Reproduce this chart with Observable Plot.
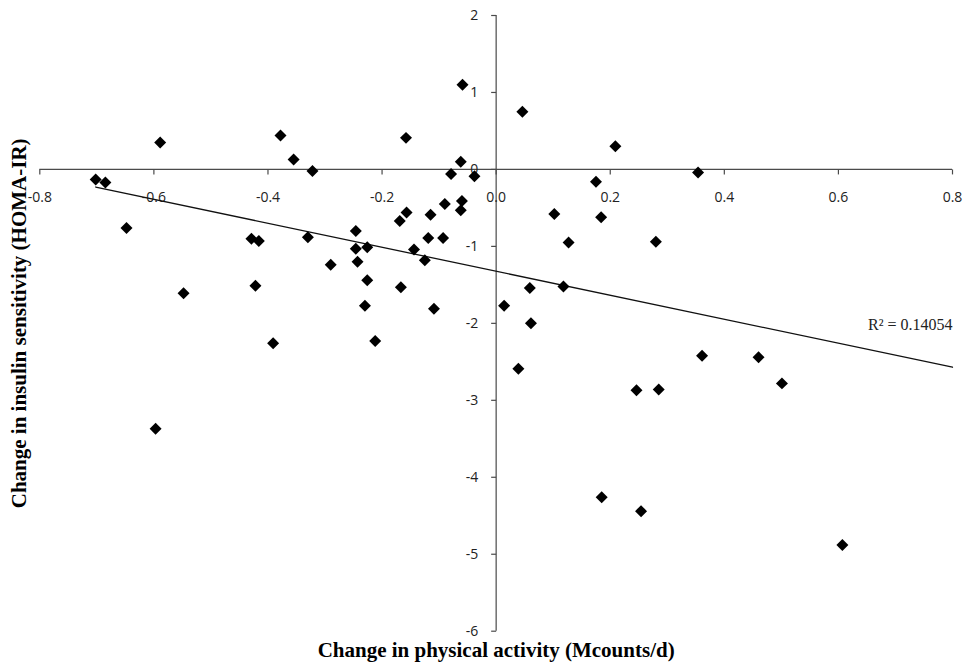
<!DOCTYPE html>
<html>
<head>
<meta charset="utf-8">
<script src="https://cdn.jsdelivr.net/npm/d3@7"></script>
<script src="https://cdn.jsdelivr.net/npm/@observablehq/plot@0.6"></script>
<style>
  html, body { margin: 0; padding: 0; background: #fff; }
  #chart svg { display: block; }
</style>
</head>
<body>
<div id="chart"></div>
<script>
// Change in physical activity (Mcounts/d) for each participant
const activity = [
  -0.702, -0.685, -0.589, -0.648, -0.548, -0.597, -0.378, -0.355, -0.322, -0.429,
  -0.416, -0.422, -0.391, -0.330, -0.290, -0.246, -0.246, -0.243, -0.226, -0.226,
  -0.230, -0.212, -0.169, -0.157, -0.158, -0.167, -0.144, -0.125, -0.119, -0.115,
  -0.109, -0.093, -0.090, -0.079, -0.059, -0.062, -0.060, -0.062, -0.038, 0.046,
  0.209, 0.354, 0.175, 0.102, 0.184, 0.127, 0.280, 0.059, 0.118, 0.014,
  0.061, 0.039, 0.246, 0.285, 0.361, 0.460, 0.501, 0.185, 0.254, 0.607
];

// Matching change in insulin sensitivity (HOMA-IR)
const homa = [
  -0.13, -0.17, 0.35, -0.76, -1.61, -3.37, 0.44, 0.13, -0.02, -0.90,
  -0.93, -1.51, -2.26, -0.88, -1.24, -0.80, -1.03, -1.20, -1.01, -1.44,
  -1.77, -2.23, -0.67, -0.56, 0.41, -1.53, -1.04, -1.18, -0.89, -0.59,
  -1.81, -0.89, -0.45, -0.06, 1.10, 0.10, -0.41, -0.53, -0.09, 0.75,
  0.30, -0.04, -0.16, -0.58, -0.62, -0.95, -0.94, -1.54, -1.52, -1.77,
  -2.00, -2.59, -2.87, -2.86, -2.42, -2.44, -2.78, -4.26, -4.44, -4.88
];

// Linear trend line
const trendSlope = -1.559;
const trendIntercept = -1.323;
const rSquaredLabel = "R² = 0.14054";

// Axis ticks
const xTicks = [-0.8, -0.6, -0.4, -0.2, 0, 0.2, 0.4, 0.6, 0.8];
const yTicks = [-6, -5, -4, -3, -2, -1, 0, 1, 2];
const xDomain = [-0.8, 0.8];
const yDomain = [-6, 2];

const xTitle = "Change in physical activity (Mcounts/d)";
const yTitle = "Change in insulin sensitivity (HOMA-IR)";

const points = activity.map((x, i) => ({x, y: homa[i]}));
const trend = [d3.min(activity), xDomain[1]].map(x => ({x, y: trendIntercept + trendSlope * x}));

// Short tick-mark glyphs drawn as custom dot symbols
const tickDown = {draw(ctx) { ctx.moveTo(0, 0); ctx.lineTo(0, 5); }};
const tickLeft = {draw(ctx) { ctx.moveTo(0, 0); ctx.lineTo(-5, 0); }};

const axisColor = "#4a4a4a";
const tickFont = "'Open Sans', 'DejaVu Sans', sans-serif";
const titleFont = "'Liberation Serif', 'Times New Roman', serif";

const chart = Plot.plot({
  width: 967,
  height: 662,
  marginLeft: 39.3,
  marginRight: 15,
  marginTop: 15,
  marginBottom: 31.3,
  x: {domain: xDomain, axis: null},
  y: {domain: yDomain, axis: null},
  style: {background: "#fff"},
  marks: [
    // axes crossing at the origin
    Plot.ruleY([0], {stroke: axisColor, strokeWidth: 1.2}),
    Plot.ruleX([0], {y1: yDomain[0], y2: yDomain[1], stroke: axisColor, strokeWidth: 1.2}),
    Plot.dot(xTicks, {x: d => d, y: 0, symbol: tickDown, r: 3, stroke: axisColor, fill: "none", strokeWidth: 1.2}),
    Plot.dot(yTicks, {x: 0, y: d => d, symbol: tickLeft, r: 3, stroke: axisColor, fill: "none", strokeWidth: 1.2}),
    // tick labels
    Plot.text(xTicks, {
      x: d => d, y: 0, dy: 28, text: d => d.toFixed(1),
      fontFamily: tickFont, fontSize: 14, fill: "#222"
    }),
    Plot.text(yTicks, {
      x: 0, y: d => d, dx: -18, text: d => String(d), textAnchor: "end",
      fontFamily: tickFont, fontSize: 14, fill: "#222"
    }),
    // trend line and observations
    Plot.line(trend, {x: "x", y: "y", stroke: "#111", strokeWidth: 1.3}),
    Plot.dot(points, {x: "x", y: "y", symbol: "diamond2", r: 5.4, fill: "#000", stroke: "none"}),
    // R² annotation at the right end of the trend line
    Plot.text([rSquaredLabel], {
      x: xDomain[1], y: trendIntercept + trendSlope * xDomain[1],
      dy: -42, text: d => d, textAnchor: "end",
      fontFamily: titleFont, fontSize: 16, fill: "#222"
    }),
    // axis titles
    Plot.text([xTitle], {
      frameAnchor: "bottom", lineAnchor: "middle", dy: 19, text: d => d,
      fontFamily: titleFont, fontSize: 21, fontWeight: "bold", fill: "#000"
    }),
    Plot.text([yTitle], {
      frameAnchor: "left", textAnchor: "middle", lineAnchor: "middle", dx: -21, rotate: -90, text: d => d,
      fontFamily: titleFont, fontSize: 21, fontWeight: "bold", fill: "#000"
    })
  ]
});

document.getElementById("chart").appendChild(chart);
</script>
</body>
</html>
